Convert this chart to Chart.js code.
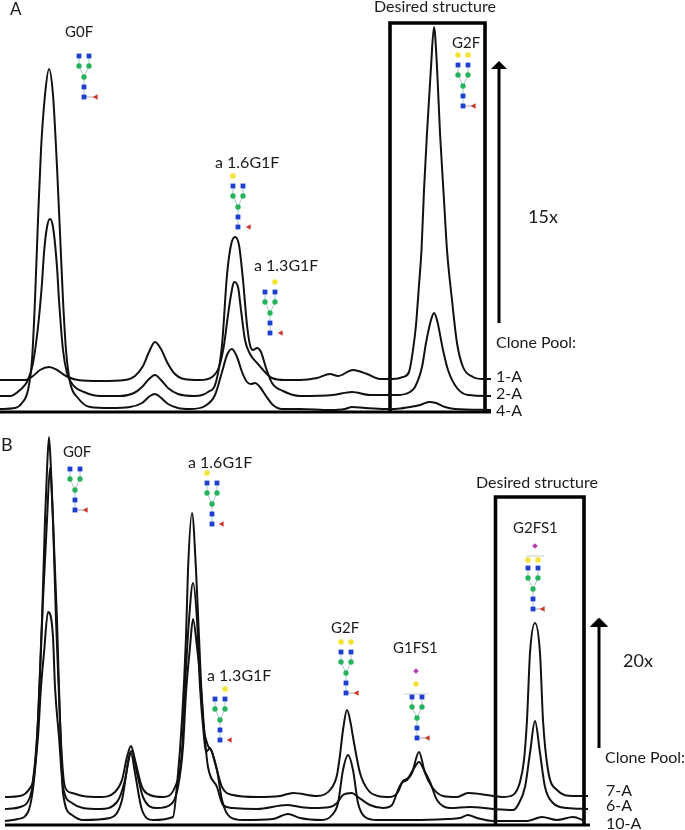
<!DOCTYPE html>
<html>
<head>
<meta charset="utf-8">
<title>Clone pool glycan profiles</title>
<script src="https://cdn.jsdelivr.net/npm/chart.js@4"></script>
<style>
  html, body { margin: 0; padding: 0; background: #fff; }
  canvas { position: absolute; left: 0; }
  #panelA { top: 0; }
  #panelB { top: 420px; }
</style>
</head>
<body>
<canvas id="panelA" width="685" height="420"></canvas>
<canvas id="panelB" width="685" height="410"></canvas>
<script>
// Panel A traces
const timeA1 = [0,25,33,40,49,57,66,78,100,125,135,143,149,155,161,167,174,184,200,212,219,224,228,231,234,238,241,245,250,258,265,272,285,300,317,330,338,353,367,380,393,403,409,413,416,419,421.5,424,427,431,434,437,440,444,447,452,457,463,473,483,491];
const signalA1 = [32,32,36,42,45,42,36,32,31,32,36,46,60,70,63,50,39,33,32,35,45,67,97,117,130,125,102,72,58,48,40,34,32,32,34,38,36,42,38,33,33,35,40,62,87,127,162,222,279,345,385,345,279,212,162,112,69,45,35,33,33];
const timeA2 = [0,10,20,28,33,38,42,44,47,50,53,57,59,63,67,73,84,100,120,134,142,149,155,161,168,178,195,208,216,222,227,231,235,239,243,247,250,253,257,261,266,272,283,300,333,352,370,397,410,415,422,426,431,434,437,443,448,457,468,491];
const signalA2 = [16,16,22,32,49,85,129,159,185,193,185,145,112,62,39,27,20,16,16,19,25,33,37,32,24,18,16,20,30,67,137,167,175,167,132,87,67,62,64,60,44,29,21,16,17,20,17,17,20,25,45,69,92,99,92,62,42,24,17,16];
const timeA4 = [0,15,22,28,32,35,38,41,45,49,53,57,60,63,66,70,78,90,110,130,142,150,155,160,168,178,190,205,215,222,227,232,237,242,247,251,255,260,266,273,282,300,330,345,352,365,385,395,410,420,429,436,445,455,491];
const signalA4 = [3,4,9,22,52,112,192,262,317,343,317,245,179,112,62,30,14,5,4,5,9,16,18,15,8,4,3,6,17,40,57,63,55,40,30,28,29,25,16,7,3,3,2,3,5,4,3,3,5,7,10,9,5,3,2];

// Panel B traces
const timeB7 = [5,20,30,33,38,43,47,50,53,57,60,65,72,83,100,115,122,127,131,135,142,150,163,175,182,185,189,193,197,200,204,206,210,215,222,233,257,280,293,317,330,337,340,343,347,351,353,360,368,378,390,398,402,407,412,419,425,432,443,457,468,480,493,503,513,520,524,527,530,535,540,543,548,557,573,588];
const signalB7 = [29,30,38,46,106,226,306,358,306,206,106,39,33,30,29,34,46,69,80,66,39,31,29,39,76,139,206,243,206,139,89,74,78,63,39,31,29,30,33,30,36,51,71,96,116,101,89,53,36,30,29,34,43,46,53,74,53,39,30,29,33,32,30,29,31,44,66,106,173,203,173,106,56,36,30,30];
const timeB6 = [5,20,30,33,38,41,44,48,53,55,59,63,72,83,100,117,125,130,132,137,143,157,170,178,183,186,190,193,197,201,205,208,217,223,233,257,287,300,313,330,337,343,352,358,370,383,392,398,403,408,413,419,424,430,437,450,470,493,513,518,525,530,535,540,545,553,567,588];
const signalB6 = [17,19,29,43,89,139,173,214,189,139,89,39,23,18,17,24,46,73,75,53,29,18,21,39,79,133,179,207,179,139,86,59,39,21,18,17,21,19,18,19,23,31,33,29,21,18,21,36,45,48,56,64,56,44,26,18,19,17,16,21,39,73,105,73,39,23,18,17];
const timeB10 = [5,18,28,35,38,42,45,47,49,51,53,56,60,63,72,83,110,122,128,131,135,142,153,173,177,182,186,188,192,196,199,203,207,212,217,222,230,243,273,288,300,322,332,338,343,348,353,358,365,377,413,447,460,468,477,493,527,542,557,573,585];
const signalB10 = [5,7,14,56,106,206,306,356,389,356,306,206,106,33,11,6,8,26,63,73,53,16,6,9,41,106,189,256,313,256,189,106,83,74,56,26,9,6,7,12,8,6,11,23,56,71,56,23,9,6,6,7,8,11,8,5,5,9,6,9,5];

const INK = '#111';
const FONT = 'Lato, "Open Sans", sans-serif';

// the plot should fill the whole canvas, so no inset for line ends or point sizes
Chart.registry.getController('line').prototype.getMaxOverflow = function () { return 0; };

function zip(xs, ys) {
  return xs.map((x, i) => ({ x: x, y: ys[i] }));
}

function trace(label, xs, ys) {
  return {
    label: label,
    data: zip(xs, ys),
    borderColor: INK,
    borderWidth: 2,
    pointRadius: 0,
    cubicInterpolationMode: 'monotone'
  };
}

// thick straight lines: axis, boxes, arrows
function rule(label, pts, width) {
  return {
    label: label,
    data: pts,
    borderColor: '#000',
    backgroundColor: '#000',
    borderWidth: width,
    pointRadius: 0,
    borderJoinStyle: 'miter',
    tension: 0
  };
}

// flat arrow head used as a custom point style
function headImage(w, h) {
  const c = document.createElement('canvas');
  c.width = w;
  c.height = h;
  const g = c.getContext('2d');
  g.beginPath();
  g.moveTo(w / 2, 0);
  g.lineTo(w, h);
  g.lineTo(0, h);
  g.closePath();
  g.fill();
  return c;
}

function arrow(label, x, y0, y1, w, h) {
  const d = rule(label, [{ x: x, y: y0 }, { x: x, y: y1 }], 3);
  d.pointStyle = headImage(w, h);
  d.pointRadius = [0, 5];
  return d;
}

function box(label, x0, x1, bottom, top) {
  return rule(label, [
    { x: x0, y: bottom }, { x: x0, y: top }, { x: x1, y: top }, { x: x1, y: bottom }
  ], 3.6);
}

function sugars(label, pts, style, color, radius, rotation) {
  return {
    label: label,
    data: pts,
    showLine: false,
    pointStyle: style,
    pointRadius: radius,
    pointRotation: rotation || 0,
    pointBackgroundColor: color,
    pointBorderWidth: 0
  };
}

function thinLine(label, pts, color) {
  return {
    label: label,
    data: pts,
    borderColor: color,
    borderWidth: 1,
    pointRadius: 0,
    spanGaps: false
  };
}

// glycan cartoon, built upward from the core GlcNAc at (x, y)
function glycan(g) {
  const p = (dx, dy) => ({ x: g.x + dx, y: g.y + dy });
  const gap = { x: null, y: null };
  const links = [p(0, 0), p(0, 20), p(-5, 31), p(-5, 41), gap, p(0, 20), p(5, 31), p(5, 41)];
  const out = [];
  // earlier datasets draw on top, so sugars go before their links
  out.push(sugars('GlcNAc', [p(0, 0), p(0, 10), p(-5, 41), p(5, 41)], 'rect', '#1c3fd2', 3.4));
  out.push(sugars('Man', [p(0, 20), p(-5, 31), p(5, 31)], 'circle', '#25b45c', 2.7));
  out.push(sugars('Fuc', [p(g.fuc, 0)], 'triangle', '#cc3328', 3.2, -90));
  if (g.gal) out.push(sugars('Gal', g.gal.map(q => p(q[0], q[1])), 'circle', '#f2e335', 2.8));
  if (g.sia) out.push(sugars('NeuAc', [p(g.sia[0], g.sia[1])], 'rectRot', '#b23fb5', 2.8));
  out.push(thinLine('links', links, '#a9c9c9'));
  if (g.fucLink) out.push(thinLine('fuc link', [p(0, 0), p(g.fuc, 0)], '#b9a0a0'));
  if (g.bracket) {
    out.push(thinLine('bracket', [p(g.bracket[0], g.bracket[2]), p(g.bracket[1], g.bracket[2])], '#cfcfcf'));
  }
  return out;
}

// plain text labels placed through the scales
const textLabels = {
  id: 'textLabels',
  afterDatasetsDraw(chart, args, opts) {
    const ctx = chart.ctx;
    ctx.save();
    ctx.fillStyle = '#1a1a1a';
    ctx.textBaseline = 'middle';
    ctx.textAlign = 'left';
    opts.items.forEach(t => {
      ctx.font = (t[3] || 16) + 'px ' + FONT;
      ctx.fillText(t[0], chart.scales.x.getPixelForValue(t[1]), chart.scales.y.getPixelForValue(t[2]));
    });
    ctx.restore();
  }
};

function panel(id, yMin, yMax, datasets, items) {
  new Chart(document.getElementById(id).getContext('2d'), {
    type: 'line',
    data: { datasets: datasets },
    options: {
      responsive: false,
      animation: false,
      layout: { padding: 0 },
      events: [],
      scales: {
        x: { type: 'linear', min: 0, max: 685, display: false },
        y: { type: 'linear', min: yMin, max: yMax, display: false }
      },
      plugins: {
        legend: { display: false },
        tooltip: { enabled: false },
        textLabels: { items: items }
      }
    },
    plugins: [textLabels]
  });
}

// Panel A: y value = height above the axis line
const galLeft = [[-5, 51]];
const galRight = [[5, 51]];
const galBoth = [[-5, 51], [5, 51]];

const glycansA = [
  { x: 84, y: 315, fuc: 12, fucLink: true },
  { x: 238, y: 185, fuc: 11, gal: galLeft },
  { x: 270, y: 79, fuc: 11, gal: galRight },
  { x: 463, y: 306, fuc: 11, fucLink: true, gal: galBoth }
];
const labelsA = [
  ['A', 10, 402, 17],
  ['G0F', 65, 380, 15],
  ['a 1.6G1F', 215, 249],
  ['a 1.3G1F', 254, 146],
  ['Desired structure', 374, 405],
  ['G2F', 452, 369, 15],
  ['15x', 528, 195, 18],
  ['Clone Pool:', 496, 69],
  ['1-A', 496, 35],
  ['2-A', 496, 18],
  ['4-A', 496, 1]
];
panel('panelA', -8, 412, [
  trace('1-A', timeA1, signalA1),
  trace('2-A', timeA2, signalA2),
  trace('4-A', timeA4, signalA4),
  rule('axis', [{ x: 0, y: 0 }, { x: 491, y: 0 }], 3),
  box('desired', 390, 485, 0, 389),
  arrow('15x', 499, 89, 347, 16, 8)
].concat(...glycansA.map(glycan)), labelsA);

// Panel B
const glycansB = [
  { x: 75, y: 316, fuc: 11, fucLink: true },
  { x: 212, y: 302, fuc: 10, gal: galLeft },
  { x: 220, y: 86, fuc: 10, gal: galRight },
  { x: 346, y: 133, fuc: 11, fucLink: true, gal: galBoth },
  { x: 417, y: 88, fuc: 11, fucLink: true, gal: [[-1, 54]], bracket: [-13, 11, 44], sia: [-1, 67] },
  { x: 533, y: 217, fuc: 10, fucLink: true, gal: [[-5, 49], [5, 49]], bracket: [-7, 11, 53], sia: [2, 63] }
];
const labelsB = [
  ['B', 1, 381, 18],
  ['G0F', 63, 374, 15],
  ['a 1.6G1F', 188, 363],
  ['a 1.3G1F', 207, 150],
  ['G2F', 331, 198, 15],
  ['G1FS1', 393, 178, 15],
  ['Desired structure', 476, 343],
  ['G2FS1', 513, 298, 15],
  ['20x', 623, 165, 18],
  ['Clone Pool:', 605, 68],
  ['7-A', 606, 35],
  ['6-A', 606, 20],
  ['10-A', 606, 2]
];
panel('panelB', -4, 406, [
  trace('7-A', timeB7, signalB7),
  trace('6-A', timeB6, signalB6),
  trace('10-A', timeB10, signalB10),
  rule('axis', [{ x: 5, y: 1 }, { x: 590, y: 1 }], 3),
  box('desired', 495.5, 584, 1, 329),
  arrow('20x', 599, 78, 204, 18, 9)
].concat(...glycansB.map(glycan)), labelsB);
</script>
</body>
</html>
